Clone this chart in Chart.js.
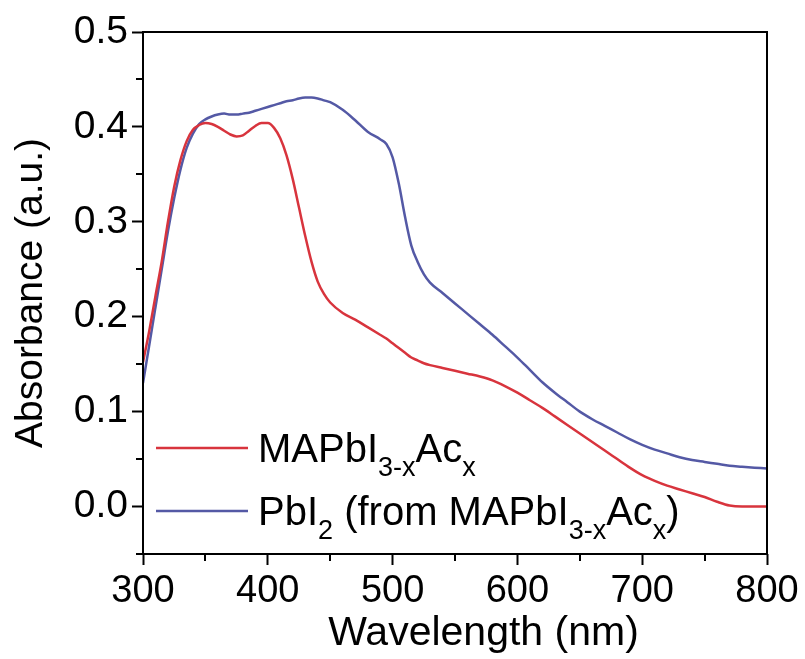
<!DOCTYPE html>
<html>
<head>
<meta charset="utf-8">
<script src="https://cdn.jsdelivr.net/npm/chart.js@4.4.1/dist/chart.umd.min.js"></script>
<style>
  html, body { margin: 0; padding: 0; background: #fff; }
</style>
</head>
<body>
<canvas id="chart" width="805" height="659"></canvas>
<script>
// data
const wavelengths = [300, 305, 310, 315, 320, 325, 330, 335, 340, 345, 350, 355, 360, 365, 370, 375, 380, 385, 390, 395,
  400, 405, 410, 415, 420, 425, 430, 435, 440, 445, 450, 460, 470, 480, 490, 495, 500, 505, 510, 515, 520, 525, 530,
  540, 550, 560, 570, 580, 590, 600, 610, 620, 630, 640, 650, 660, 670, 680, 690, 700, 710, 720, 730, 740, 750,
  760, 770, 780, 790, 800];
const mapbiAbs = [0.152, 0.185, 0.222, 0.258, 0.300, 0.337, 0.365, 0.385, 0.397, 0.402, 0.404, 0.403, 0.400, 0.396, 0.392, 0.390, 0.391, 0.396, 0.401, 0.404,
  0.404, 0.399, 0.388, 0.370, 0.345, 0.315, 0.285, 0.258, 0.237, 0.224, 0.215, 0.204, 0.197, 0.189, 0.181, 0.177, 0.172, 0.167, 0.162, 0.157, 0.154, 0.151, 0.149,
  0.146, 0.143, 0.140, 0.137, 0.133, 0.127, 0.120, 0.112, 0.104, 0.095, 0.086, 0.077, 0.068, 0.059, 0.050, 0.041, 0.033, 0.027, 0.022, 0.018, 0.014, 0.010,
  0.005, 0.001, 0.000, 0.000, 0.000];
const pbi2Abs = [0.130, 0.170, 0.210, 0.250, 0.290, 0.325, 0.355, 0.378, 0.393, 0.403, 0.408, 0.411, 0.413, 0.414, 0.413, 0.413, 0.414, 0.415, 0.417, 0.419,
  0.421, 0.423, 0.425, 0.427, 0.428, 0.430, 0.431, 0.431, 0.430, 0.428, 0.426, 0.418, 0.407, 0.395, 0.387, 0.382, 0.368, 0.340, 0.305, 0.275, 0.258, 0.245, 0.236,
  0.225, 0.214, 0.203, 0.192, 0.181, 0.169, 0.157, 0.144, 0.131, 0.120, 0.110, 0.100, 0.092, 0.085, 0.078, 0.071, 0.065, 0.060, 0.056, 0.052, 0.049, 0.047,
  0.045, 0.043, 0.042, 0.041, 0.040];

const xTicks = [300, 400, 500, 600, 700, 800];
const xMinorTicks = [350, 450, 550, 650, 750];
const yTicks = [0.0, 0.1, 0.2, 0.3, 0.4, 0.5];
const yMinorTicks = [-0.05, 0.05, 0.15, 0.25, 0.35, 0.45];

const seriesNames = ['MAPbI3-xAcx', 'PbI2 (from MAPbI3-xAcx)'];
// legend text pieces, second item true = subscript
const legendPieces = [
  [['MAPbI'], ['3-x', true], ['Ac'], ['x', true]],
  [['PbI'], ['2', true], [' (from MAPbI'], ['3-x', true], ['Ac'], ['x', true], [')']]
];
const seriesColors = ['#d8343d', '#5459a5'];

const FONT = '"Liberation Sans", Arial, sans-serif';

const framePlugin = {
  id: 'frame',
  afterDraw(chart) {
    const { ctx, chartArea: a, scales } = chart;
    ctx.save();
    ctx.strokeStyle = '#000';
    ctx.lineWidth = 2;
    ctx.strokeRect(a.left, a.top, a.right - a.left, a.bottom - a.top);
    // minor ticks
    ctx.beginPath();
    xMinorTicks.forEach(v => {
      const px = Math.round(scales.x.getPixelForValue(v));
      ctx.moveTo(px, a.bottom);
      ctx.lineTo(px, a.bottom + 7);
    });
    yMinorTicks.forEach(v => {
      const py = Math.round(scales.y.getPixelForValue(v));
      ctx.moveTo(a.left, py);
      ctx.lineTo(a.left - 7, py);
    });
    ctx.stroke();
    ctx.restore();
  }
};

const richLegend = {
  id: 'richLegend',
  afterDatasetsDraw(chart) {
    const { ctx, chartArea: a } = chart;
    const rows = [448, 511];
    const size = 40, subSize = 27;
    ctx.save();
    chart.data.datasets.forEach((ds, i) => {
      const y = rows[i];
      ctx.strokeStyle = ds.borderColor;
      ctx.lineWidth = 2.5;
      ctx.beginPath();
      ctx.moveTo(a.left + 13, y);
      ctx.lineTo(a.left + 105, y);
      ctx.stroke();
      let x = a.left + 115;
      const base = y + 14;
      ctx.fillStyle = '#000';
      ctx.textBaseline = 'alphabetic';
      ctx.textAlign = 'left';
      legendPieces[i].forEach(([t, sub]) => {
        ctx.font = (sub ? subSize : size) + 'px ' + FONT;
        ctx.fillText(t, x, sub ? base + 14 : base);
        x += ctx.measureText(t).width;
      });
    });
    ctx.restore();
  }
};

new Chart(document.getElementById('chart'), {
  type: 'line',
  data: {
    datasets: [
      {
        label: seriesNames[0],
        data: wavelengths.map((w, i) => ({ x: w, y: mapbiAbs[i] })),
        borderColor: seriesColors[0],
        borderWidth: 2.5,
        pointRadius: 0,
        cubicInterpolationMode: 'monotone'
      },
      {
        label: seriesNames[1],
        data: wavelengths.map((w, i) => ({ x: w, y: pbi2Abs[i] })),
        borderColor: seriesColors[1],
        borderWidth: 2.5,
        pointRadius: 0,
        cubicInterpolationMode: 'monotone'
      }
    ]
  },
  options: {
    responsive: false,
    animation: false,
    devicePixelRatio: 1,
    layout: { padding: { top: 32, right: 38, left: 0, bottom: 0 } },
    plugins: {
      legend: { display: false },
      tooltip: { enabled: false }
    },
    scales: {
      x: {
        type: 'linear',
        min: 300,
        max: 800,
        afterBuildTicks: s => { s.ticks = xTicks.map(v => ({ value: v })); },
        afterFit: s => { s.height = 105; },
        border: { display: false },
        grid: { drawOnChartArea: false, drawTicks: true, tickLength: 11, tickWidth: 2, tickColor: '#000' },
        ticks: { color: '#000', font: { family: FONT, size: 38 }, padding: 4, maxRotation: 0 },
        title: {
          display: true,
          // leading spaces push the title right, as in the original
          text: '     Wavelength (nm)',
          color: '#000',
          font: { family: FONT, size: 41 },
          padding: { top: 0, bottom: 1 }
        }
      },
      y: {
        min: -0.05,
        max: 0.5,
        afterBuildTicks: s => { s.ticks = yTicks.map(v => ({ value: v })); },
        afterFit: s => { s.width = 143; },
        border: { display: false },
        grid: { drawOnChartArea: false, drawTicks: true, tickLength: 11, tickWidth: 2, tickColor: '#000' },
        ticks: { color: '#000', font: { family: FONT, size: 39 }, padding: 4, callback: v => v.toFixed(1) },
        title: {
          display: true,
          text: 'Absorbance (a.u.)',
          color: '#000',
          font: { family: FONT, size: 39 },
          padding: { top: 8, bottom: 0 }
        }
      }
    }
  },
  plugins: [framePlugin, richLegend]
});
</script>
</body>
</html>
